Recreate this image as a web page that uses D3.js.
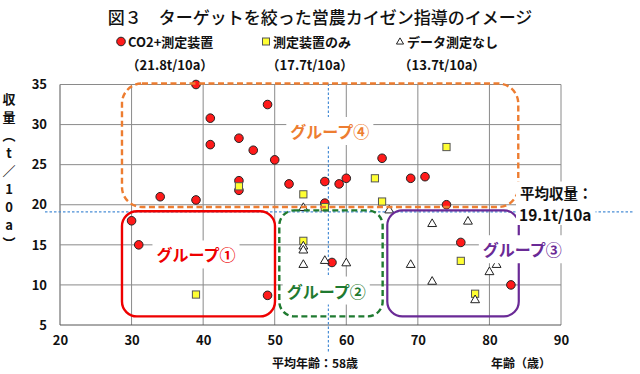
<!DOCTYPE html>
<html><head><meta charset="utf-8">
<script src="https://cdn.jsdelivr.net/npm/d3@7"></script>
<style>
html,body{margin:0;padding:0;background:#fff;}
svg{display:block;font-family:"Noto Sans CJK JP","Noto Sans",sans-serif;}
</style></head>
<body><svg id="chart" width="640" height="374"></svg>
<script>
// ---- data ----
const titleText = "図３　ターゲットを絞った営農カイゼン指導のイメージ";
const seriesNames = ["CO2+測定装置", "測定装置のみ", "データ測定なし"];
const seriesMeans = ["（21.8t/10a）", "（17.7t/10a）", "（13.7t/10a）"];
// CO2+測定装置 (red circles): [age, yield]
const co2Age   = [39, 49, 41, 41, 45, 47, 50, 45, 45, 34, 39, 52, 57, 57, 59, 60, 65, 69, 71, 74, 30, 31, 49, 58, 76, 83];
const co2Yield = [35, 32.5, 30.8, 27.5, 28.3, 26.8, 25.6, 23.0, 21.8, 21.0, 20.6, 22.6, 22.9, 20.2, 22.6, 23.3, 25.8, 23.3, 23.5, 20.0, 18.0, 15.0, 8.7, 12.8, 15.3, 10.0];
// 測定装置のみ (yellow squares)
const devAge   = [45, 54, 64, 74, 65, 57, 39, 54, 76, 78];
const devYield = [22.3, 21.3, 23.3, 27.2, 20.4, 19.7, 8.8, 15.5, 13.0, 8.9];
// データ測定なし (white triangles)
const noAge   = [54, 66, 54, 54, 54, 57, 60, 72, 77, 69, 81, 80, 72, 78];
const noYield = [19.7, 19.4, 14.9, 14.4, 12.6, 13.1, 12.8, 17.7, 18.0, 12.6, 12.6, 11.7, 10.5, 8.2];
const xTicks = [20, 30, 40, 50, 60, 70, 80, 90];
const yTicks = [5, 10, 15, 20, 25, 30, 35];
const meanAge = 57.5, meanYield = 19.1;
const meanAgeLabel = "平均年齢：58歳";
const meanYieldLabel = ["平均収量：", "19.1t/10a"];
const xTitle = "年齢（歳）";
const yTitle = "収量（t／10a）";
// group boxes in data units [x0, x1, y0, y1]
const groupNames = ["グループ①", "グループ②", "グループ③", "グループ④"];
const groupBoxes = [[28.66, 50.04, 6.07, 19.18], [50.64, 65.08, 6.07, 19.3], [65.73, 84.1, 6.07, 19.3], [28.66, 84.03, 19.72, 35.12]];
const groupLabelPos = [[39.0, 13.8], [57.2, 9.3], [84.6, 14.45], [57.7, 29.2]];

// ---- layout ----
const svg = d3.select("#chart");
const x = d3.scaleLinear().domain([20, 90]).range([60, 561]);
const y = d3.scaleLinear().domain([5, 35]).range([325, 84.5]);
const bold = 700;

// title
svg.append("text").attr("x", 320).attr("y", 16).attr("text-anchor", "middle")
  .attr("dominant-baseline", "central").attr("font-size", 17).attr("font-weight", 500)
  .attr("fill", "#111").text(titleText);

// legend
const legX = [121, 266, 400];
const legG = svg.append("g");
legG.append("circle").attr("cx", legX[0]).attr("cy", 41.5).attr("r", 4.3).attr("fill", "#ff1a1a").attr("stroke", "#222").attr("stroke-width", 1);
legG.append("rect").attr("x", legX[1] - 3.5).attr("y", 38).attr("width", 7).attr("height", 7).attr("fill", "#ffff33").attr("stroke", "#555").attr("stroke-width", 1);
legG.append("path").attr("d", d3.symbol(d3.symbolTriangle, 22)()).attr("transform", `translate(${legX[2]},42)`).attr("fill", "#fff").attr("stroke", "#222").attr("stroke-width", 1);
seriesNames.forEach((n, i) => {
  legG.append("text").attr("x", legX[i] + 7).attr("y", 41.5).attr("dominant-baseline", "central")
    .attr("font-size", 13).attr("font-weight", bold).attr("fill", "#111").text(n);
});
const meanCx = [170, 310, 442];
seriesMeans.forEach((n, i) => {
  legG.append("text").attr("x", meanCx[i]).attr("y", 64).attr("text-anchor", "middle").attr("dominant-baseline", "central")
    .attr("font-size", 13).attr("font-weight", bold).attr("fill", "#111").text(n);
});

// gridlines
const grid = svg.append("g");
grid.selectAll("line.v").data(xTicks).join("line").attr("class", "v")
  .attr("x1", d => x(d)).attr("x2", d => x(d)).attr("y1", y(35)).attr("y2", y(5))
  .attr("stroke", d => d === 20 ? "#555" : "#8a8a8a").attr("stroke-width", 1);
grid.selectAll("line.h").data(yTicks).join("line").attr("class", "h")
  .attr("x1", x(20)).attr("x2", x(90)).attr("y1", d => y(d)).attr("y2", d => y(d))
  .attr("stroke", d => d === 5 ? "#555" : "#8a8a8a").attr("stroke-width", 1);

// axes (labels only)
const xAxis = svg.append("g").attr("transform", `translate(0,${y(5)})`)
  .call(d3.axisBottom(x).tickValues(xTicks).tickSize(0).tickPadding(11));
const yAxis = svg.append("g").attr("transform", `translate(${x(20)},0)`)
  .call(d3.axisLeft(y).tickValues(yTicks).tickSize(0).tickPadding(13));
[xAxis, yAxis].forEach(a => {
  a.select(".domain").remove();
  a.selectAll("text").attr("font-size", 13).attr("font-weight", bold).attr("fill", "#111")
    .attr("font-family", '"Noto Sans CJK JP",sans-serif');
});

// y title (vertical, upright characters)
svg.append("text").attr("x", 9).attr("y", 93)
  .style("writing-mode", "vertical-rl").style("text-orientation", "upright")
  .attr("letter-spacing", 5)
  .attr("font-size", 13).attr("font-weight", bold).attr("fill", "#111").text(yTitle);

// x title + mean age label
svg.append("text").attr("x", 521).attr("y", 362).attr("text-anchor", "middle").attr("dominant-baseline", "central")
  .attr("font-size", 12).attr("font-weight", bold).attr("fill", "#111").text(xTitle);
svg.append("text").attr("x", 315).attr("y", 362).attr("text-anchor", "middle").attr("dominant-baseline", "central")
  .attr("font-size", 12).attr("font-weight", bold).attr("fill", "#111").text(meanAgeLabel);

// mean lines
svg.append("line").attr("x1", x(meanAge)).attr("x2", x(meanAge)).attr("y1", y(35) - 1).attr("y2", 352)
  .attr("stroke", "#4a8ed6").attr("stroke-width", 1.2).attr("stroke-dasharray", "2.5,2");
svg.append("line").attr("x1", 45).attr("x2", 634).attr("y1", y(meanYield)).attr("y2", y(meanYield))
  .attr("stroke", "#4a8ed6").attr("stroke-width", 1.2).attr("stroke-dasharray", "2.5,2");

// points
const pts = svg.append("g");
pts.selectAll("circle").data(co2Age.map((a, i) => [a, co2Yield[i]])).join("circle")
  .attr("cx", d => x(d[0])).attr("cy", d => y(d[1])).attr("r", 4.3)
  .attr("fill", "#ff1a1a").attr("stroke", "#222").attr("stroke-width", 1);
pts.selectAll("rect").data(devAge.map((a, i) => [a, devYield[i]])).join("rect")
  .attr("x", d => x(d[0]) - 3.6).attr("y", d => y(d[1]) - 3.6).attr("width", 7.2).attr("height", 7.2)
  .attr("fill", "#ffff33").attr("stroke", "#555").attr("stroke-width", 1);
pts.selectAll("path").data(noAge.map((a, i) => [a, noYield[i]])).join("path")
  .attr("d", d3.symbol(d3.symbolTriangle, 34)())
  .attr("transform", d => `translate(${x(d[0])},${y(d[1]) + 0.8})`)
  .attr("fill", "#fff").attr("stroke", "#222").attr("stroke-width", 1);

// group boxes
const boxStyle = [
  {c: "#ee0000", w: 2.4, dash: null, r: 15},
  {c: "#1f7a30", w: 2.4, dash: "6,3.5", r: 15},
  {c: "#6a2a96", w: 2.2, dash: null, r: 15},
  {c: "#ed7d31", w: 2.4, dash: "6,3.5", r: 20}
];
groupBoxes.forEach((b, i) => {
  const s = boxStyle[i];
  const r = svg.append("rect").attr("x", x(b[0])).attr("y", y(b[3]))
    .attr("width", x(b[1]) - x(b[0])).attr("height", y(b[2]) - y(b[3]))
    .attr("rx", s.r).attr("ry", s.r).attr("fill", "none").attr("stroke", s.c).attr("stroke-width", s.w);
  if (s.dash) r.attr("stroke-dasharray", s.dash);
});

// labels with white background
function bgLabel(txt, cx, cy, size, color, anchor) {
  const g = svg.append("g");
  const bg = g.append("rect").attr("fill", "#fff");
  const t = g.append("text").attr("x", cx).attr("y", cy).attr("text-anchor", anchor || "middle")
    .attr("dominant-baseline", "central").attr("font-size", size).attr("font-weight", bold).attr("fill", color).text(txt);
  const bb = t.node().getBBox();
  bg.attr("x", bb.x - 4).attr("y", bb.y - 2).attr("width", bb.width + 8).attr("height", bb.height + 4);
}
const labelColors = ["#ee0000", "#1f7a30", "#6a2a96", "#ed7d31"];
groupNames.forEach((n, i) => bgLabel(n, x(groupLabelPos[i][0]), y(groupLabelPos[i][1]), 16, labelColors[i]));

// mean yield label: one text, two lines
const myG = svg.append("g");
const myBg = myG.append("rect").attr("fill", "#fff");
const myT = myG.append("text").attr("font-weight", bold).attr("fill", "#111");
myT.append("tspan").attr("x", 520).attr("y", 198.5).attr("font-size", 14.5).text(meanYieldLabel[0]);
myT.append("tspan").attr("x", 519).attr("y", 221).attr("font-size", 15.5).text(meanYieldLabel[1]);
const mb = myT.node().getBBox();
myBg.attr("x", mb.x - 3).attr("y", mb.y).attr("width", mb.width + 6).attr("height", mb.height);
</script></body></html>
